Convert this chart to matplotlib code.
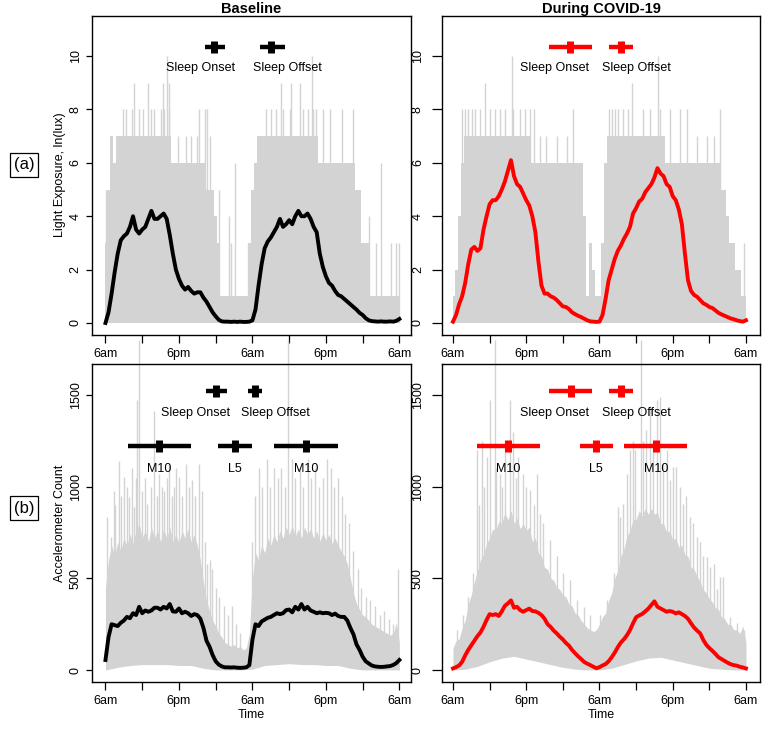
import numpy as np
import matplotlib
matplotlib.use("Agg")
import matplotlib.pyplot as plt

plt.rcParams['font.family'] = ['Liberation Sans', 'DejaVu Sans']

# ---------------- data ----------------
hours = np.arange(0, 48.5, 0.5)          # half-hour grid, 6am -> 6am (+48h)
hours2 = np.arange(0, 49, 2)              # coarse grid for lower grey envelope

tick_hours = [0, 6, 12, 18, 24, 30, 36, 42, 48]
tick_labels = ["6am", "", "6pm", "", "6am", "", "6pm", "", "6am"]

# mean light exposure, ln(lux)
light_base = [0.0, 0.4, 1.1, 1.9, 2.6, 3.1, 3.25, 3.35, 3.6, 4.0, 3.5, 3.35, 3.5, 3.6, 3.9, 4.2,
              3.9, 3.9, 4.0, 4.1, 3.9, 3.3, 2.6, 2.0, 1.65, 1.4, 1.25, 1.35, 1.2, 1.1, 1.15, 1.15,
              0.95, 0.8, 0.6, 0.4, 0.25, 0.12, 0.06, 0.05, 0.05, 0.04, 0.05, 0.04, 0.05, 0.04, 0.04, 0.05,
              0.1, 0.5, 1.4, 2.2, 2.8, 3.05, 3.2, 3.4, 3.6, 3.9, 3.6, 3.7, 3.85, 3.7, 4.0, 4.2,
              4.0, 4.0, 4.1, 3.9, 3.6, 3.4, 2.6, 2.1, 1.75, 1.5, 1.4, 1.2, 1.05, 1.0, 0.9, 0.8,
              0.7, 0.6, 0.5, 0.38, 0.3, 0.18, 0.1, 0.07, 0.06, 0.05, 0.06, 0.05, 0.05, 0.06, 0.05, 0.08,
              0.15]
light_covid = [0.05, 0.3, 0.7, 1.0, 1.5, 2.2, 2.75, 2.85, 2.7, 2.8, 3.5, 4.0, 4.45, 4.6, 4.6, 4.75,
               5.0, 5.3, 5.7, 6.1, 5.5, 5.2, 5.1, 4.85, 4.6, 4.4, 4.0, 3.4, 2.3, 1.4, 1.1, 1.1,
               1.0, 0.95, 0.86, 0.74, 0.62, 0.6, 0.52, 0.4, 0.33, 0.27, 0.22, 0.16, 0.1, 0.06, 0.05, 0.04,
               0.05, 0.3, 0.9, 1.6, 2.0, 2.4, 2.7, 2.9, 3.15, 3.35, 3.6, 4.1, 4.3, 4.55, 4.65, 4.9,
               5.05, 5.2, 5.45, 5.8, 5.6, 5.5, 5.2, 5.1, 4.75, 4.6, 4.25, 3.7, 2.6, 1.6, 1.2, 1.05,
               0.98, 0.86, 0.74, 0.68, 0.6, 0.56, 0.47, 0.38, 0.32, 0.27, 0.22, 0.17, 0.14, 0.1, 0.07, 0.05,
               0.1]

# individual light exposure (grey): upper envelope level and single spikes
light_base_env = [3, 5, 7, 6] + [7] * 18 + [6] * 11 + [5, 5, 5, 4, 3, 1, 1, 1, 1, 1, 1, 1, 1, 1, 3, 5, 6] \
                 + [7] * 20 + [6] * 12 + [5, 5, 3, 3, 3, 1] + [1] * 9
light_covid_env = [1, 2, 4, 6] + [7] * 22 + [6] * 17 + [4, 1, 3, 2, 1, 1, 3, 6] \
                  + [7] * 19 + [6] * 18 + [5, 5, 4, 3, 3, 2, 2, 1, 1]
light_base_low = [0] * 25
light_covid_low = [0] * 25

light_base_spk_h = [0.1, 4.7, 6.9, 9.4, 10.0, 10.3, 2.8, 3.4, 4.4, 5.5, 6.1, 7.4, 8.0, 9.1, 9.6, 10.4,
                    15.3, 16.2, 16.6, 11.8, 13.2, 14.0, 14.9, 17.0, 18.6, 20.2, 20.5, 21.1, 23.2, 23.8,
                    26.2, 27.0, 27.9, 29.0, 30.1, 32.2, 33.0, 33.9, 34.4, 35.5, 36.6, 38.7, 40.4,
                    28.7, 30.3, 31.7, 33.7, 43.1, 44.2, 45.0, 46.6, 47.4, 47.9]
light_base_spk_v = [5, 9, 9, 9, 10, 9, 8, 8, 8, 8, 8, 8, 8, 8, 8, 8,
                    8, 8, 8, 7, 7, 7, 7, 7, 5, 4, 3, 6, 3, 3,
                    8, 8, 8, 8, 8, 8, 8, 8, 8, 8, 8, 8, 8,
                    9, 9, 9, 10, 4, 3, 6, 3, 3, 3]
light_covid_spk_h = [1.4, 1.96, 2.5, 3.1, 3.6, 4.4, 5.2, 6.1, 6.9, 7.7, 8.5, 9.6, 9.9, 11.0, 11.8, 12.6,
                     13.2, 14.3, 15.3, 17.0, 18.6, 19.7, 25.5, 26.0, 26.5, 27.1, 27.9, 28.7, 29.3, 31.2,
                     32.3, 33.6, 33.9, 35.6, 37.2, 38.3, 39.9, 41.6, 42.7, 43.7, 47.6]
light_covid_spk_v = [8, 8, 8, 8, 8, 8, 9, 8, 8, 8, 8, 10, 8, 8, 8, 8,
                     8, 7, 7, 7, 7, 8, 8, 8, 8, 8, 8, 8, 9, 8,
                     8, 10, 8, 8, 8, 8, 7, 7, 7, 8, 3]

# mean accelerometer counts
act_base = [55, 180, 250, 245, 240, 258, 270, 290, 283, 310, 300, 345, 310, 325, 318, 325,
            340, 340, 330, 345, 336, 360, 320, 318, 336, 310, 318, 310, 295, 305, 300, 280,
            230, 160, 127, 82, 48, 30, 20, 15, 15, 14, 15, 13, 12, 13, 15, 27,
            165, 250, 240, 265, 275, 285, 290, 300, 310, 305, 310, 327, 330, 315, 345, 330,
            360, 330, 345, 325, 318, 310, 315, 310, 312, 310, 300, 308, 295, 290, 290, 270,
            230, 195, 140, 110, 73, 48, 36, 25, 20, 18, 17, 18, 20, 22, 28, 38,
            55]
act_covid = [9, 16, 25, 45, 80, 110, 135, 160, 185, 205, 236, 273, 305, 300, 305, 295,
             320, 350, 364, 380, 340, 345, 327, 318, 327, 335, 322, 320, 312, 300, 280, 250,
             235, 215, 200, 182, 167, 148, 133, 110, 92, 75, 60, 44, 35, 27, 18, 10,
             16, 25, 33, 48, 70, 95, 125, 150, 168, 190, 218, 255, 288, 298, 306, 320,
             335, 355, 375, 345, 336, 327, 318, 322, 318, 309, 315, 305, 295, 280, 255, 232,
             215, 200, 165, 138, 120, 105, 88, 70, 60, 50, 40, 32, 27, 24, 18, 14,
             9]

act_base_env = [450, 600, 680, 620, 700, 650, 720, 680, 740, 690, 760, 800, 720, 760, 700, 780,
                720, 760, 700, 770, 720, 780, 700, 740, 690, 760, 720, 770, 700, 740, 680, 600,
                480, 380, 320, 270, 240, 200, 180, 150, 140, 130, 140, 120, 130, 110, 120, 200,
                500, 640, 600, 680, 640, 720, 680, 740, 700, 760, 720, 780, 740, 790, 730, 770,
                720, 780, 740, 770, 720, 760, 700, 750, 710, 740, 690, 720, 680, 650, 620, 580,
                500, 420, 360, 330, 300, 290, 270, 250, 240, 230, 220, 210, 200, 190, 200, 260,
                150]
act_covid_env = [120, 160, 170, 230, 270, 360, 410, 480, 540, 600, 630, 690, 720, 770, 760, 810,
                 800, 860, 820, 870, 800, 830, 770, 800, 760, 780, 700, 720, 640, 620, 560, 550,
                 500, 490, 450, 440, 410, 400, 360, 350, 310, 300, 270, 250, 230, 220, 210, 220,
                 250, 290, 310, 380, 420, 500, 540, 620, 660, 730, 760, 820, 820, 870, 840, 880,
                 850, 880, 850, 860, 800, 800, 750, 760, 710, 720, 670, 680, 630, 620, 560, 550,
                 510, 480, 440, 420, 390, 370, 340, 330, 290, 280, 250, 250, 220, 220, 200, 240,
                 150]
act_base_low = [0, 15, 25, 30, 30, 30, 25, 25, 10, 0, 0, 0, 5, 25, 30, 35, 30, 30, 25, 25, 10, 0, 0, 0, 0]
act_covid_low = [0, 5, 20, 45, 65, 75, 60, 45, 30, 15, 5, 0, 0, 10, 30, 50, 65, 70, 55, 40, 25, 10, 5, 0, 0]

act_base_spk_h = [0.33, 0.9, 1.4, 1.6, 2.2, 2.6, 3.0, 3.5, 3.9, 4.3, 4.7, 5.0, 5.2, 6.04, 6.4, 6.86,
                  7.4, 7.95, 8.4, 8.8, 9.2, 9.6, 10.0, 10.4, 10.8, 11.2, 11.6, 12.0, 12.5, 13.1,
                  13.6, 14.2, 14.7, 15.3, 15.8, 16.2, 16.6, 17.0, 17.4, 18.0, 18.6, 19.3, 20.0, 20.6,
                  21.3, 22.0, 23.9, 24.4, 25.0, 25.6, 26.3, 26.9, 27.5, 28.1, 28.7, 29.3, 30.4, 31.0,
                  31.7, 32.3, 33.0, 33.6, 34.2, 34.9, 35.5, 36.1, 36.8, 37.4, 38.0, 38.6, 39.2, 39.8,
                  40.5, 41.2, 41.8, 42.5, 43.2, 44.0, 44.8, 45.5, 46.3, 47.0, 47.8]
act_base_spk_v = [835, 725, 978, 900, 1142, 950, 1053, 1000, 945, 1100, 890, 1050, 1470, 978, 1050, 905,
                  1000, 1415, 950, 1070, 1000, 978, 1050, 1125, 950, 997, 1100, 1053, 950, 1125,
                  1000, 1035, 950, 1125, 978, 700, 578, 600, 550, 450, 400, 350, 300, 350,
                  250, 200, 700, 950, 1100, 1000, 1150, 1000, 1100, 1050, 1100, 1000, 1150, 1050,
                  1100, 1000, 1150, 1050, 1100, 1000, 1050, 1150, 1100, 1000, 1050, 950, 850, 800,
                  650, 550, 450, 400, 380, 350, 300, 320, 280, 250, 550]
act_covid_spk_h = [0.6, 1.7, 3.3, 3.9, 4.7, 5.5, 6.1, 7.7, 8.5, 9.3, 9.9, 10.7, 11.5, 12.6, 13.7, 14.8,
                   15.9, 17.0, 18.1, 19.2, 20.3, 21.4, 22.4, 24.1, 25.2, 26.3, 27.1, 27.4, 27.9, 28.5,
                   29.0, 29.5, 29.9, 31.2, 31.7, 32.3, 32.8, 33.4, 33.9, 34.4, 35.0, 35.6, 36.1, 36.6,
                   37.2, 37.7, 38.2, 38.8, 39.4, 39.9, 40.5, 41.0, 41.6, 42.1, 42.7, 43.2, 43.8, 44.3,
                   45.4, 46.5, 47.6, 2.5, 4.3, 5.1, 7.0, 8.0, 10.3, 12.0, 13.2, 14.2]
act_covid_spk_v = [220, 300, 530, 1200, 1250, 1160, 1470, 1070, 1250, 1470, 1300, 1160, 1070, 980, 1070, 800,
                   710, 620, 530, 490, 380, 345, 300, 300, 380, 530, 890, 835, 905, 1070,
                   1200, 1250, 1200, 1250, 1310, 1440, 1250, 1470, 1490, 1125, 1200, 1035, 1110, 1110,
                   1000, 905, 950, 835, 800, 725, 700, 620, 615, 560, 578, 440, 505, 505,
                   290, 255, 220, 400, 900, 1000, 1100, 1000, 1050, 1000, 900, 850]
# the two tallest single readings run past the top of the panel
act_base_tall_h = [5.5, 29.8]
act_covid_tall_h = [6.9, 30.8]
tall_value = 1800

# summary markers: (centre, low, high)
light_base_marks = {"Sleep Onset": (17.8, 16.3, 19.6), "Sleep Offset": (27.1, 25.3, 29.4)}
light_covid_marks = {"Sleep Onset": (19.2, 15.7, 22.8), "Sleep Offset": (27.5, 25.6, 29.5)}
act_base_marks = {"Sleep Onset": (18.0, 16.5, 19.8), "Sleep Offset": (24.5, 23.2, 25.6)}
act_covid_marks = {"Sleep Onset": (19.3, 15.7, 22.8), "Sleep Offset": (27.5, 25.6, 29.5)}
act_base_rhythm = [("M10", 8.8, 3.6, 14.0), ("L5", 21.2, 18.4, 24.0), ("M10", 32.8, 27.6, 37.9)]
act_covid_rhythm = [("M10", 9.0, 3.9, 14.3), ("L5", 23.4, 20.8, 26.2), ("M10", 33.3, 28.0, 38.3)]
sleep_text_base_light = (15.5, 29.7)
sleep_text_covid = (16.7, 30.1)
sleep_text_base_act = (14.7, 27.8)

GREY = "#d3d3d3"
FS = 9

W, H = 764, 730
fig = plt.figure(figsize=(W / 100, H / 100), dpi=100)


def make_ax(l, t, r, b):
    return fig.add_axes([l / W, 1 - b / H, (r - l) / W, (b - t) / H])


ax_tl = make_ax(92, 16, 411, 335)
ax_tr = make_ax(442, 16, 760, 335)
ax_bl = make_ax(92, 364, 411, 682)
ax_br = make_ax(442, 364, 760, 682)


def style(ax, xlim, ylim, yticks, right=False, xlabel=None):
    ax.set_xlim(*xlim)
    ax.set_ylim(*ylim)
    ax.set_xticks(tick_hours)
    ax.set_xticklabels(tick_labels, fontsize=FS)
    ax.set_yticks(yticks)
    ax.set_yticklabels([str(v) for v in yticks], fontsize=FS, rotation=90, va='center')
    ax.tick_params(axis='x', direction='out', length=5.5, width=0.9, pad=4)
    ax.tick_params(axis='y', direction='out', length=7 if right else 4.5, width=0.9,
                   pad=6 if right else 3)
    for s in ax.spines.values():
        s.set_linewidth(1.0)
        s.set_zorder(10)
    if xlabel:
        ax.set_xlabel(xlabel, fontsize=FS, labelpad=1)


def grey_layer(ax, env, low, spk_h, spk_v, ymin, step):
    ax.fill_between(hours, 0, env, step=step, color=GREY, lw=0, zorder=1)
    ax.vlines(spk_h, 0, spk_v, color=GREY, lw=1.0, zorder=1)
    ax.fill_between(hours2, ymin, low, color="white", lw=0, zorder=1.5)


def marker(ax, c, lo, hi, y, color):
    ax.plot([lo, hi], [y, y], color=color, lw=3.2, solid_capstyle='butt', zorder=5)
    ax.plot([c], [y], marker='|', markersize=9, markeredgewidth=5, color=color, zorder=5)


LY = (-0.45, 11.5)
AY = (-65, 1669)
LW = 2.8

# ---- top-left ----
grey_layer(ax_tl, light_base_env, light_base_low, light_base_spk_h, light_base_spk_v, LY[0], 'mid')
ax_tl.plot(hours, light_base, color='black', lw=LW, zorder=4)
for name, (c, lo, hi) in light_base_marks.items():
    marker(ax_tl, c, lo, hi, 10.33, 'black')
ax_tl.text(sleep_text_base_light[0], 9.55, "Sleep Onset", ha='center', va='center', fontsize=FS)
ax_tl.text(sleep_text_base_light[1], 9.55, "Sleep Offset", ha='center', va='center', fontsize=FS)
style(ax_tl, (-2.2, 49.9), LY, [0, 2, 4, 6, 8, 10])
ax_tl.set_title("Baseline", fontsize=10.5, fontweight='bold', pad=1)

# ---- top-right ----
grey_layer(ax_tr, light_covid_env, light_covid_low, light_covid_spk_h, light_covid_spk_v, LY[0], 'mid')
ax_tr.plot(hours, light_covid, color='red', lw=LW, zorder=4)
for name, (c, lo, hi) in light_covid_marks.items():
    marker(ax_tr, c, lo, hi, 10.33, 'red')
ax_tr.text(sleep_text_covid[0], 9.55, "Sleep Onset", ha='center', va='center', fontsize=FS)
ax_tr.text(sleep_text_covid[1], 9.55, "Sleep Offset", ha='center', va='center', fontsize=FS)
style(ax_tr, (-1.8, 50.3), LY, [0, 2, 4, 6, 8, 10], right=True)
ax_tr.set_title("During COVID-19", fontsize=10.5, fontweight='bold', pad=1)

# ---- bottom-left ----
grey_layer(ax_bl, act_base_env, act_base_low, act_base_spk_h, act_base_spk_v, AY[0], None)
ax_bl.vlines(act_base_tall_h, 0, tall_value, color=GREY, lw=1.0, zorder=1, clip_on=False)
ax_bl.plot(hours, act_base, color='black', lw=LW, zorder=4)
for name, (c, lo, hi) in act_base_marks.items():
    marker(ax_bl, c, lo, hi, 1521, 'black')
ax_bl.text(sleep_text_base_act[0], 1401, "Sleep Onset", ha='center', va='center', fontsize=FS)
ax_bl.text(sleep_text_base_act[1], 1401, "Sleep Offset", ha='center', va='center', fontsize=FS)
for name, c, lo, hi in act_base_rhythm:
    marker(ax_bl, c, lo, hi, 1221, 'black')
    ax_bl.text(c, 1096, name, ha='center', va='center', fontsize=FS)
style(ax_bl, (-2.2, 49.9), AY, [0, 500, 1000, 1500], xlabel="Time")

# ---- bottom-right ----
grey_layer(ax_br, act_covid_env, act_covid_low, act_covid_spk_h, act_covid_spk_v, AY[0], None)
ax_br.vlines(act_covid_tall_h, 0, tall_value, color=GREY, lw=1.0, zorder=1, clip_on=False)
ax_br.plot(hours, act_covid, color='red', lw=LW, zorder=4)
for name, (c, lo, hi) in act_covid_marks.items():
    marker(ax_br, c, lo, hi, 1521, 'red')
ax_br.text(sleep_text_covid[0], 1401, "Sleep Onset", ha='center', va='center', fontsize=FS)
ax_br.text(sleep_text_covid[1], 1401, "Sleep Offset", ha='center', va='center', fontsize=FS)
for name, c, lo, hi in act_covid_rhythm:
    marker(ax_br, c, lo, hi, 1221, 'red')
    ax_br.text(c, 1096, name, ha='center', va='center', fontsize=FS)
style(ax_br, (-1.8, 50.3), AY, [0, 500, 1000, 1500], right=True, xlabel="Time")

# y labels and panel tags
fig.text(60 / W, 1 - 175 / H, "Light Exposure, ln(lux)", rotation=90, ha='center', va='center', fontsize=FS)
fig.text(60 / W, 1 - 523 / H, "Accelerometer Count", rotation=90, ha='center', va='center', fontsize=FS)
box = dict(boxstyle='square,pad=0.25', facecolor='white', edgecolor='black', lw=0.9)
fig.text(24 / W, 1 - 165 / H, "(a)", ha='center', va='center', fontsize=12, bbox=box)
fig.text(24 / W, 1 - 508 / H, "(b)", ha='center', va='center', fontsize=12, bbox=box)

fig.savefig("out.png", dpi=100)
